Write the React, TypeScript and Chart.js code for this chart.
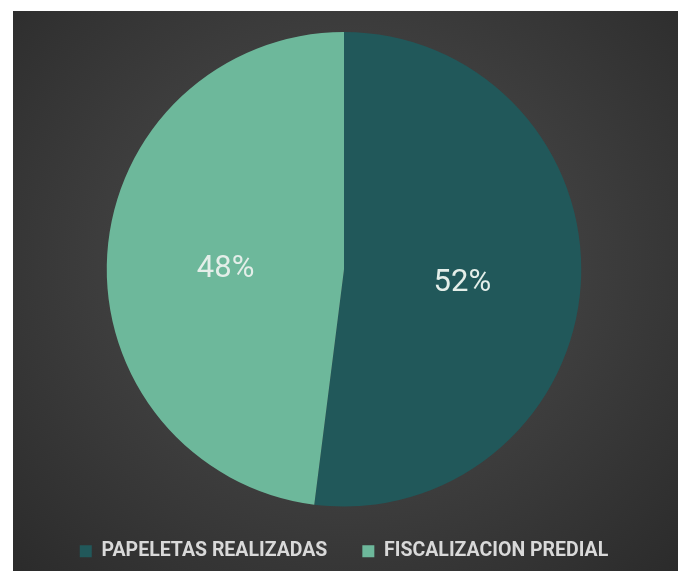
import React, { useEffect, useRef } from "react";
import { Chart, registerables } from "chart.js";

Chart.register(...registerables);

const categories = ["PAPELETAS REALIZADAS", "FISCALIZACION PREDIAL"];
const values = [52, 48];
const colors = ["#21585a", "#6db89b"];

const FONT = 'Roboto, "Liberation Sans", sans-serif';

const labelPlugin = {
  id: "sliceLabels",
  afterDatasetsDraw(chart: any) {
    const { ctx } = chart;
    const meta = chart.getDatasetMeta(0);
    const data = chart.data.datasets[0].data as number[];
    const total = data.reduce((a, b) => a + b, 0);
    ctx.save();
    ctx.font = `31px ${FONT}`;
    ctx.fillStyle = "#e4eee9";
    ctx.textAlign = "center";
    ctx.textBaseline = "middle";
    meta.data.forEach((arc: any, i: number) => {
      const p = arc.tooltipPosition(true);
      const pct = Math.round((data[i] / total) * 100);
      ctx.fillText(`${pct}%`, p.x, p.y + 7);
    });
    ctx.restore();
  },
};

export default function App() {
  const ref = useRef<HTMLCanvasElement | null>(null);
  useEffect(() => {
    if (!ref.current) return;
    const chart = new Chart(ref.current, {
      type: "pie",
      data: {
        labels: categories,
        datasets: [
          {
            data: values,
            backgroundColor: colors,
            borderWidth: 0,
          },
        ],
      },
      options: {
        responsive: true,
        maintainAspectRatio: false,
        animation: false,
        layout: { padding: { top: 21, left: 0, right: 3, bottom: 0 } },
        plugins: {
          legend: {
            position: "bottom",
            labels: {
              color: "#d9d9d9",
              boxWidth: 12,
              boxHeight: 12,
              padding: 35,
              font: { family: FONT, size: 19.5, weight: "bold" },
            },
          },
          tooltip: { enabled: false },
        },
      },
      plugins: [labelPlugin],
    });
    return () => chart.destroy();
  }, []);
  return (
    <div
      style={{
        position: "fixed",
        left: 13,
        top: 11,
        width: 665,
        height: 560,
        background:
          "radial-gradient(ellipse farthest-corner at 50% 45%, #4f4f4f 0%, #404040 45%, #2b2b2b 100%)",
      }}
    >
      <canvas ref={ref} />
    </div>
  );
}
